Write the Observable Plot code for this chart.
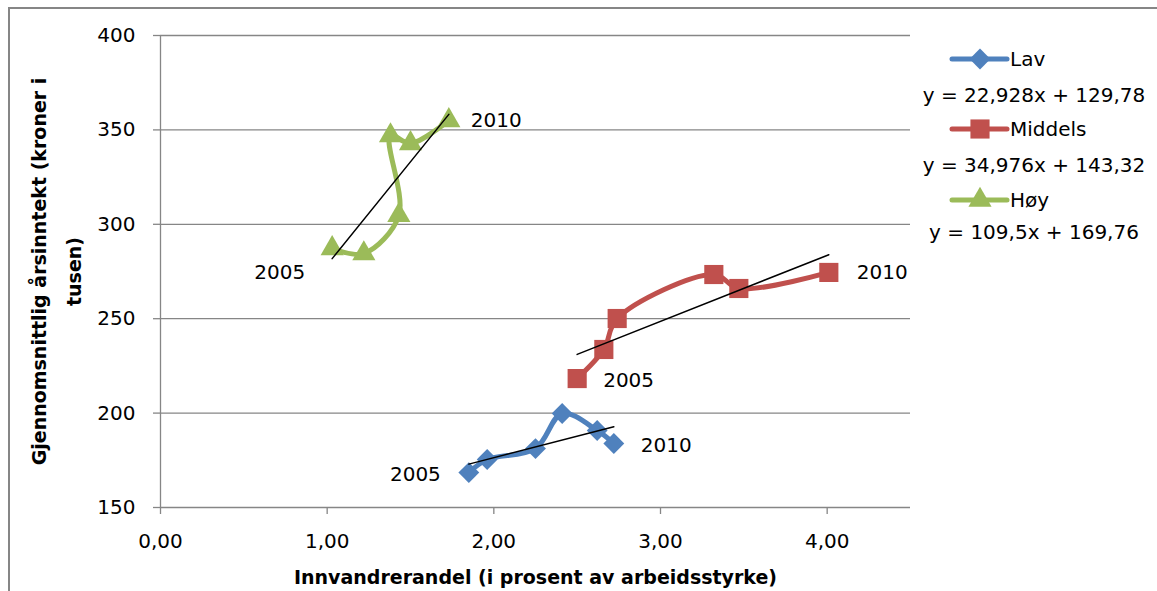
<!DOCTYPE html>
<html>
<head>
<meta charset="utf-8">
<script src="https://cdn.jsdelivr.net/npm/d3@7"></script>
<script src="https://cdn.jsdelivr.net/npm/@observablehq/plot@0.6"></script>
<style>
  html, body { margin: 0; padding: 0; background: #fff; overflow: hidden; }
  #wrap { position: relative; width: 1157px; height: 591px; font-family: "DejaVu Sans", sans-serif; }
  #frame { position: absolute; left: 8px; top: 7px; width: 1300px; height: 800px;
           border-left: 2px solid #868686; border-top: 2px solid #868686; box-sizing: border-box; }
  #chart { position: absolute; left: 0; top: 0; }
  .leg { position: absolute; font-size: 20px; line-height: 24px; height: 24px; white-space: nowrap; color: #000; }
</style>
</head>
<body>
<div id="wrap"><div id="frame"></div><div id="chart"></div></div>
<script>
// ---- data ----
const years = [2005, 2006, 2007, 2008, 2009, 2010];
const seriesNames = ["Lav", "Middels", "Høy"];
const seriesColors = ["#4F81BD", "#C0504D", "#9BBB59"];
const lavX = [1.85, 1.96, 2.25, 2.41, 2.62, 2.72];
const lavY = [168.5, 175.4, 181.2, 199.8, 190.8, 183.9];
const midX = [2.50, 2.66, 2.74, 3.32, 3.47, 4.01];
const midY = [218.3, 233.7, 250.1, 273.4, 266.0, 274.5];
const hoyX = [1.03, 1.22, 1.43, 1.38, 1.50, 1.73];
const hoyY = [287.2, 284.5, 304.7, 347.0, 342.8, 355.0];
const trendEquations = ["y = 22,928x + 129,78", "y = 34,976x + 143,32", "y = 109,5x + 169,76"];
const xTicks = [0, 1, 2, 3, 4];
const yTicks = [150, 200, 250, 300, 350, 400];
const xTitle = "Innvandrerandel (i prosent av arbeidsstyrke)";
const yTitleLines = ["Gjennomsnittlig årsinntekt (kroner i", "tusen)"];

// ---- build table ----
const seriesX = [lavX, midX, hoyX];
const seriesY = [lavY, midY, hoyY];
const data = [];
seriesNames.forEach((s, i) => {
  years.forEach((yr, j) => data.push({series: s, year: yr, x: seriesX[i][j], y: seriesY[i][j]}));
});
const symbols = {"Lav": "diamond2", "Middels": "square", "Høy": "triangle"};
const symbolR = {"Lav": 9.4, "Middels": 10.8, "Høy": 8.6};

// label offsets (style)
const labelStyle = {
  "Lav":     {first: [-28, 2, "end"],  last: [27, 2, "start"]},
  "Middels": {first: [26, 2, "start"], last: [28, 0, "start"]},
  "Høy":     {first: [-27, 24, "end"], last: [22, 0, "start"]}
};
const labelMarks = [];
seriesNames.forEach(s => {
  const pts = data.filter(d => d.series === s);
  [["first", pts[0]], ["last", pts[pts.length - 1]]].forEach(([k, p]) => {
    const [dx, dy, anchor] = labelStyle[s][k];
    labelMarks.push(Plot.text([p], {x: "x", y: "y", text: d => String(d.year), dx, dy,
      textAnchor: anchor, fontSize: 20, fill: "black"}));
  });
});

const plot = Plot.plot({
  width: 1157, height: 591,
  marginLeft: 160, marginRight: 247, marginTop: 35, marginBottom: 84,
  x: {domain: [0, 4.5]},
  y: {domain: [150, 400]},
  color: {domain: seriesNames, range: seriesColors},
  style: {fontFamily: "DejaVu Sans", fontSize: "20px", color: "black", background: "transparent", overflow: "visible"},
  marks: [
    Plot.ruleY(yTicks.filter(d => d > 150), {stroke: "#868686", strokeWidth: 1.3}),
    Plot.axisY({ticks: yTicks, tickSize: 7, tickPadding: 18, tickFormat: d3.format("d"),
      label: null, stroke: "#868686", strokeWidth: 1.3, fontSize: 20}),
    Plot.axisX({ticks: xTicks, tickSize: 7, tickPadding: 19,
      tickFormat: d => d.toFixed(2).replace(".", ","), label: null,
      stroke: "#868686", strokeWidth: 1.3, fontSize: 20}),
    Plot.ruleY([150], {stroke: "#868686", strokeWidth: 1.3}),
    Plot.ruleX([0], {stroke: "#868686", strokeWidth: 1.3}),
    Plot.line(data, {x: "x", y: "y", z: "series", stroke: "series", strokeWidth: 5, curve: "catmull-rom"}),
    ...seriesNames.map(s => Plot.dot(data.filter(d => d.series === s), {
      x: "x", y: "y", symbol: symbols[s], r: symbolR[s], fill: "series", stroke: "none"})),
    Plot.linearRegressionY(data, {x: "x", y: "y", z: "series", stroke: "black", strokeWidth: 1.5, ci: 0}),
    ...labelMarks,
    Plot.text([yTitleLines.join("\n")], {frameAnchor: "left", textAnchor: "middle", rotate: -90, dx: -80,
      lineAnchor: "bottom", lineHeight: 1.84, fontWeight: "bold", fontSize: 19, fill: "black"}),
    Plot.text([xTitle], {frameAnchor: "bottom", dy: 76, lineAnchor: "bottom",
      fontWeight: "bold", fontSize: 19, fill: "black"})
  ]
});
document.getElementById("chart").appendChild(plot);

// ---- legend (HTML) ----
const wrap = document.getElementById("wrap");
const d3Sym = {"Lav": d3.symbolDiamond2, "Middels": d3.symbolSquare, "Høy": d3.symbolTriangle};
const rowY = [[59, 95], [129, 165], [200, 232]];
seriesNames.forEach((s, i) => {
  const [ys, ye] = rowY[i];
  const svg = d3.create("svg").attr("width", 62).attr("height", 30)
    .style("position", "absolute").style("left", "949px").style("top", (ys - 15) + "px");
  svg.append("line").attr("x1", 3).attr("x2", 58).attr("y1", 15).attr("y2", 15)
    .attr("stroke", seriesColors[i]).attr("stroke-width", 5).attr("stroke-linecap", "round");
  svg.append("path").attr("transform", "translate(31,15)")
    .attr("d", d3.symbol(d3Sym[s], Math.PI * symbolR[s] * symbolR[s])())
    .attr("fill", seriesColors[i]);
  wrap.appendChild(svg.node());
  const t = document.createElement("div");
  t.className = "leg"; t.textContent = s;
  t.style.left = "1010px"; t.style.top = (ys - 12) + "px";
  wrap.appendChild(t);
  const e = document.createElement("div");
  e.className = "leg"; e.textContent = trendEquations[i];
  e.style.left = "1034px"; e.style.top = (ye - 12) + "px"; e.style.transform = "translateX(-50%)";
  wrap.appendChild(e);
});
</script>
</body>
</html>
